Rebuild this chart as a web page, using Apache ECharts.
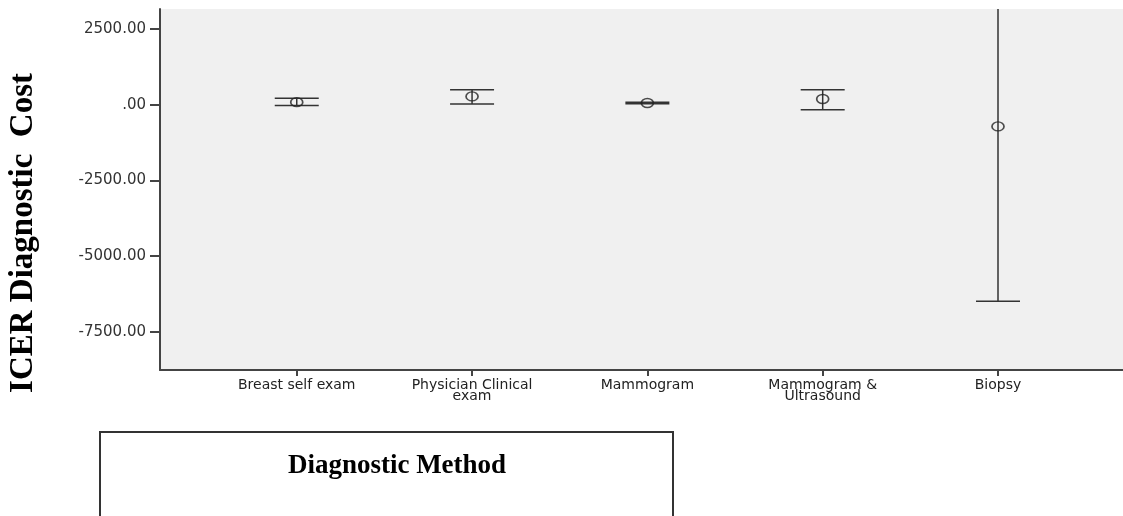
<!DOCTYPE html>
<html>
<head>
<meta charset="utf-8">
<title>ICER Diagnostic Cost</title>
<script src="https://cdn.jsdelivr.net/npm/echarts@6/dist/echarts.min.js"></script>
<style>
  html, body { margin: 0; padding: 0; background: #fff; }
  #main { width: 1123px; height: 516px; }
</style>
</head>
<body>
<div id="main"></div>
<script>
// categories and values
var methods = ['Breast self exam', 'Physician Clinical\nexam', 'Mammogram', 'Mammogram &\nUltrasound', 'Biopsy'];
var means = [85, 274, 56, 188, -717];
var lower = [-30, 23, 35, -165, -6491];
var upper = [210, 496, 80, 496, 5057];
var yTicks = [2500, 0, -2500, -5000, -7500];

var axisColor = '#444444';
var myChart = echarts.init(document.getElementById('main'));

var barData = [];
var meanData = [];
methods.forEach(function (m, i) {
    barData.push([i, lower[i], upper[i]]);
    meanData.push([i, means[i]]);
});

// vertical line + caps, clipped to the plot area
function renderBar(params, api) {
    var cs = params.coordSys;
    var lo = api.coord([api.value(0), api.value(1)]);
    var hi = api.coord([api.value(0), api.value(2)]);
    var top = Math.max(hi[1], cs.y);
    var bottom = Math.min(lo[1], cs.y + cs.height);
    var half = 22;
    var style = { stroke: '#333', lineWidth: 1.5 };
    var children = [{
        type: 'line',
        shape: { x1: lo[0], y1: top, x2: lo[0], y2: bottom },
        style: style
    }];
    if (hi[1] >= cs.y) {
        children.push({ type: 'line', shape: { x1: hi[0] - half, y1: hi[1], x2: hi[0] + half, y2: hi[1] }, style: style });
    }
    if (lo[1] <= cs.y + cs.height) {
        children.push({ type: 'line', shape: { x1: lo[0] - half, y1: lo[1], x2: lo[0] + half, y2: lo[1] }, style: style });
    }
    return { type: 'group', children: children };
}

var option = {
    backgroundColor: '#ffffff',
    animation: false,
    grid: {
        left: 160, top: 9, right: 0, bottom: 146,
        show: true, backgroundColor: '#f0f0f0', borderWidth: 0
    },
    xAxis: {
        type: 'value',
        min: -0.78, max: 4.713,
        splitLine: { show: false },
        axisLine: { show: true, onZero: false, lineStyle: { color: axisColor, width: 2 } },
        axisTick: { show: true, customValues: [0, 1, 2, 3, 4], length: 6, lineStyle: { color: axisColor, width: 2 } },
        axisLabel: {
            customValues: [0, 1, 2, 3, 4],
            formatter: function (v) { return methods[Math.round(v)]; },
            color: '#222', fontFamily: 'DejaVu Sans', fontSize: 14, lineHeight: 11, margin: 10
        }
    },
    yAxis: {
        type: 'value',
        min: -8763, max: 3161,
        splitLine: { show: false },
        axisLine: { show: true, onZero: false, lineStyle: { color: axisColor, width: 2 } },
        axisTick: { show: true, customValues: yTicks, length: 10, lineStyle: { color: axisColor, width: 2 } },
        axisLabel: {
            customValues: yTicks,
            formatter: function (v) { return v === 0 ? '.00' : v.toFixed(2); },
            color: '#333', fontFamily: 'DejaVu Sans', fontSize: 15, margin: 14
        }
    },
    series: [
        {
            type: 'custom',
            renderItem: renderBar,
            data: barData,
            silent: true,
            z: 2
        },
        {
            type: 'scatter',
            data: meanData,
            symbol: 'circle',
            symbolSize: [12, 9],
            itemStyle: { color: 'rgba(0,0,0,0)', borderColor: '#222', borderWidth: 1.5 },
            z: 3
        }
    ],
    graphic: [
        {
            type: 'text',
            rotation: Math.PI / 2,
            x: 23, y: 233,
            style: {
                text: 'ICER Diagnostic  Cost',
                font: 'bold 33px "Liberation Serif"',
                fill: '#000',
                align: 'center',
                verticalAlign: 'middle'
            }
        },
        {
            type: 'rect',
            shape: { x: 100, y: 432, width: 573, height: 120 },
            style: { fill: '#fff', stroke: '#333', lineWidth: 2 }
        },
        {
            type: 'text',
            x: 397, y: 466,
            style: {
                text: 'Diagnostic Method',
                font: 'bold 27px "Liberation Serif"',
                fill: '#000',
                align: 'center',
                verticalAlign: 'middle'
            }
        }
    ]
};

myChart.setOption(option);
</script>
</body>
</html>
